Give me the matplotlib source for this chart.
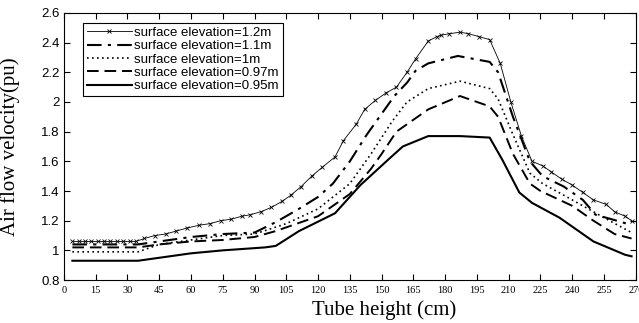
import matplotlib.pyplot as plt
from matplotlib.ticker import FuncFormatter, MultipleLocator

# Air flow velocity along the tube for each surface elevation
h_12 = [4, 7, 10, 13, 16, 19, 22, 25, 28, 31, 34, 38, 43, 48, 53, 58, 64, 69, 74, 79,
        84, 88, 93, 98, 103, 107, 112, 117, 122, 128, 132, 138, 142, 147, 152, 157,
        162, 166, 172, 176, 178, 182, 187, 191, 196, 201, 206, 211, 216, 221, 226,
        230, 235, 240, 245, 250, 256, 260, 265, 268]
v_12 = [1.06, 1.06, 1.06, 1.06, 1.06, 1.06, 1.06, 1.06, 1.06, 1.06, 1.06, 1.08, 1.10,
        1.11, 1.13, 1.15, 1.17, 1.18, 1.20, 1.21, 1.23, 1.24, 1.26, 1.29, 1.33, 1.37,
        1.43, 1.50, 1.56, 1.63, 1.74, 1.85, 1.95, 2.01, 2.06, 2.10, 2.20, 2.29, 2.41,
        2.44, 2.45, 2.46, 2.47, 2.46, 2.44, 2.42, 2.26, 2.00, 1.77, 1.60, 1.57, 1.53,
        1.48, 1.44, 1.39, 1.34, 1.31, 1.26, 1.23, 1.20]

h_11 = [4, 35, 45, 60, 75, 90, 100, 111, 120, 127, 135, 143, 150, 156, 162, 166, 172,
        186, 201, 205, 212, 220, 226, 236, 245, 251, 261, 268]
v_11 = [1.04, 1.04, 1.06, 1.09, 1.11, 1.12, 1.19, 1.28, 1.36, 1.45, 1.60, 1.78, 1.92,
        2.04, 2.13, 2.21, 2.26, 2.31, 2.27, 2.20, 1.90, 1.60, 1.50, 1.43, 1.34, 1.24,
        1.20, 1.17]

h_10 = [4, 35, 45, 60, 75, 90, 105, 120, 135, 145, 155, 162, 172, 187, 201, 205, 212,
        220, 226, 240, 255, 268]
v_10 = [0.99, 0.99, 1.04, 1.07, 1.10, 1.11, 1.18, 1.28, 1.45, 1.65, 1.87, 2.00, 2.09,
        2.14, 2.09, 2.02, 1.78, 1.52, 1.45, 1.34, 1.22, 1.12]

h_097 = [4, 35, 45, 60, 75, 90, 100, 120, 135, 145, 150, 157, 172, 187, 201, 205, 212,
         220, 225, 240, 250, 260, 268]
v_097 = [1.02, 1.02, 1.04, 1.06, 1.07, 1.09, 1.13, 1.23, 1.38, 1.55, 1.65, 1.80, 1.95,
         2.04, 1.97, 1.90, 1.65, 1.45, 1.40, 1.30, 1.20, 1.11, 1.08]

h_095 = [4, 35, 45, 60, 75, 95, 100, 111, 128, 140, 153, 160, 172, 187, 201, 207, 215,
         221, 234, 250, 265, 268]
v_095 = [0.93, 0.93, 0.95, 0.98, 1.00, 1.02, 1.03, 1.13, 1.25, 1.44, 1.61, 1.70, 1.77,
         1.77, 1.76, 1.61, 1.39, 1.32, 1.22, 1.06, 0.97, 0.96]

labels = ["surface elevation=1.2m", "surface elevation=1.1m", "surface elevation=1m",
          "surface elevation=0.97m", "surface elevation=0.95m"]

fig = plt.figure(figsize=(6.39, 3.23), dpi=100)
ax = fig.add_axes([0.100, 0.133, 0.895, 0.827])

ax.plot(h_12, v_12, color='black', lw=0.6, marker='x', ms=3.5, mew=0.6, label=labels[0])
ax.plot(h_11, v_11, color='black', lw=1.5, dashes=(7, 3, 1.5, 3), label=labels[1])
ax.plot(h_10, v_10, color='black', lw=1.2, dashes=(1, 2), label=labels[2])
ax.plot(h_097, v_097, color='black', lw=1.4, dashes=(6, 3), label=labels[3])
ax.plot(h_095, v_095, color='black', lw=1.5, label=labels[4])

ax.set_xlim(0, 270)
ax.set_ylim(0.8, 2.6)
ax.xaxis.set_major_locator(MultipleLocator(15))
ax.yaxis.set_major_locator(MultipleLocator(0.2))
ax.yaxis.set_major_formatter(FuncFormatter(lambda v, p: '%g' % round(v, 2)))

ax.tick_params(direction='in', top=True, right=True, length=4, width=0.8)
for lbl in ax.get_xticklabels():
    lbl.set_fontfamily('Liberation Serif')
    lbl.set_fontsize(7.5)
for lbl in ax.get_yticklabels():
    lbl.set_fontfamily('Liberation Sans')
    lbl.set_fontsize(9.5)
ax.tick_params(axis='x', pad=4)
ax.tick_params(axis='y', pad=3)
for sp in ax.spines.values():
    sp.set_linewidth(0.8)

ax.set_xlabel('Tube height (cm)', family='Liberation Serif', fontsize=15, labelpad=1)
ax.xaxis.set_label_coords(0.56, -0.075)
ax.set_ylabel('Air flow velocity(pu)', family='Liberation Serif', fontsize=15, labelpad=2)
ax.yaxis.set_label_coords(-0.077, 0.5)

leg = ax.legend(loc='upper left', bbox_to_anchor=(0.033, 0.963), borderaxespad=0,
                prop={'family': 'Liberation Sans', 'size': 9.5}, handlelength=3.4,
                handletextpad=0.2, labelspacing=0.08, borderpad=0.3, numpoints=1,
                fancybox=False, framealpha=1, edgecolor='black')
leg.get_frame().set_linewidth(0.8)

fig.savefig('out.png', dpi=100)
